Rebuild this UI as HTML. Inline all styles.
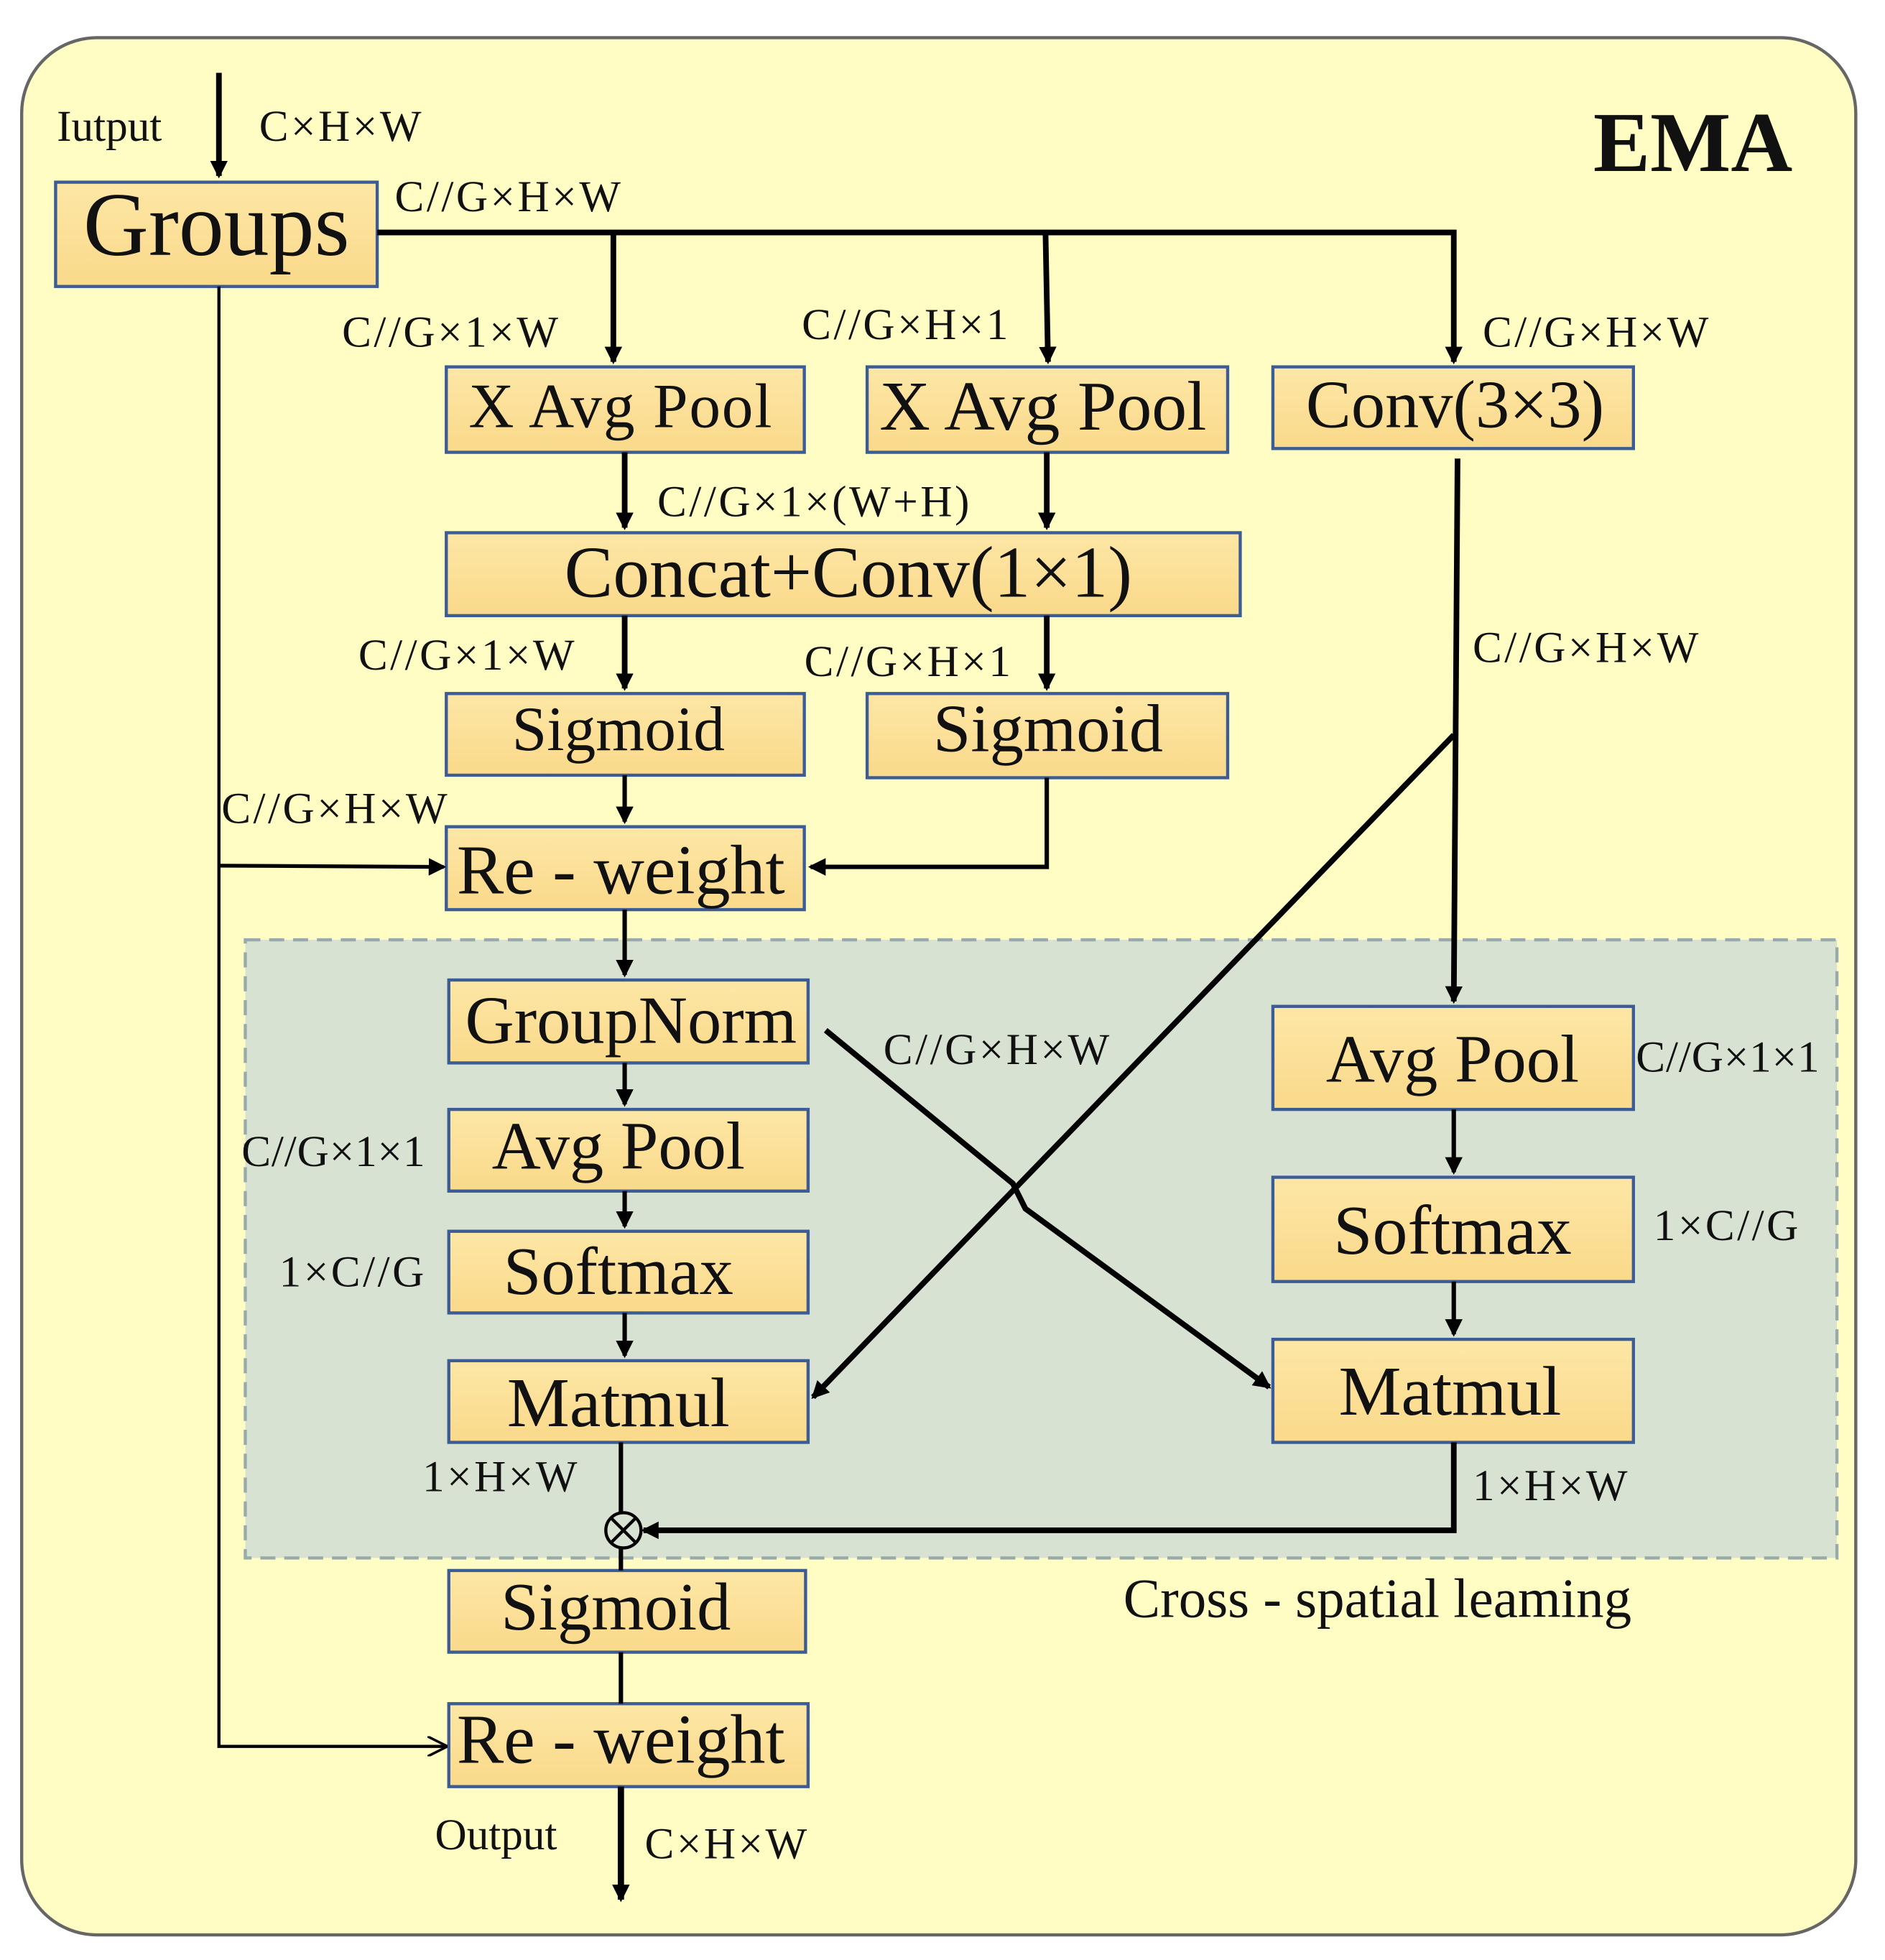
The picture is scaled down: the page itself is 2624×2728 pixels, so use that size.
<!DOCTYPE html>
<html><head><meta charset="utf-8"><style>
html,body{margin:0;padding:0;background:#fff;}
svg{display:block;}
text{font-family:"Liberation Serif",serif;fill:#111;}
</style></head><body>
<svg width="2624" height="2728" viewBox="0 0 1500 1560" xmlns="http://www.w3.org/2000/svg">
<defs>
<marker id="a" markerWidth="14" markerHeight="14" refX="12" refY="7" orient="auto" markerUnits="userSpaceOnUse" viewBox="0 0 14 14"><path d="M0,0 L14,7 L0,14 z" fill="#000"/></marker>
<marker id="b" markerWidth="16" markerHeight="16" refX="15" refY="8" orient="auto" markerUnits="userSpaceOnUse" viewBox="0 0 16 16"><path d="M0,0 L16,8 L0,16" fill="none" stroke="#000" stroke-width="2"/></marker>
<linearGradient id="g" x1="0" y1="0" x2="0" y2="1"><stop offset="0" stop-color="#FDE7A6"/><stop offset="1" stop-color="#FAD98A"/></linearGradient>
</defs>
<rect x="0" y="0" width="1500" height="1560" fill="#fff"/>
<rect x="17" y="30" width="1460" height="1510" rx="60" fill="#FFFDC4" stroke="#666" stroke-width="2.5"/>
<rect x="195" y="748" width="1267" height="492" fill="#D8E2D2" stroke="#9aa" stroke-width="2.5" stroke-dasharray="12,7"/>
<g fill="url(#g)" stroke="#3C5C95" stroke-width="2.5">
<rect x="44" y="145" width="256" height="83"/>
<rect x="355" y="292" width="285" height="68"/>
<rect x="690" y="292" width="287" height="68"/>
<rect x="1013" y="292" width="287" height="65"/>
<rect x="355" y="424" width="632" height="66"/>
<rect x="355" y="552" width="285" height="65"/>
<rect x="690" y="552" width="287" height="67"/>
<rect x="355" y="658" width="285" height="66"/>
<rect x="357" y="780" width="286" height="66"/>
<rect x="357" y="883" width="286" height="65"/>
<rect x="357" y="980" width="286" height="65"/>
<rect x="357" y="1083" width="286" height="65"/>
<rect x="1013" y="801" width="287" height="82"/>
<rect x="1013" y="937" width="287" height="83"/>
<rect x="1013" y="1066" width="287" height="82"/>
<rect x="357" y="1250" width="284" height="65"/>
<rect x="357" y="1356" width="286" height="66"/>
</g>
<g stroke="#000" stroke-width="4.5" fill="none">
<line x1="174" y1="58" x2="174" y2="140" marker-end="url(#a)"/>
<polyline points="300,185 1157,185 1157,288" marker-end="url(#a)"/>
<line x1="488" y1="185" x2="488" y2="288" marker-end="url(#a)"/>
<line x1="832" y1="185" x2="834" y2="288" marker-end="url(#a)"/>
<line x1="497" y1="360" x2="497" y2="420" marker-end="url(#a)"/>
<line x1="833" y1="360" x2="833" y2="420" marker-end="url(#a)"/>
<line x1="497" y1="490" x2="497" y2="548" marker-end="url(#a)"/>
<line x1="833" y1="490" x2="833" y2="548" marker-end="url(#a)"/>
<line x1="497" y1="617" x2="497" y2="654" stroke-width="3.5" marker-end="url(#a)"/>
<polyline points="833,619 833,690 645,690" stroke-width="3.5" marker-end="url(#a)"/>
<line x1="497" y1="724" x2="497" y2="776" stroke-width="3.5" marker-end="url(#a)"/>
<line x1="497" y1="846" x2="497" y2="879" stroke-width="3.5" marker-end="url(#a)"/>
<line x1="497" y1="948" x2="497" y2="976" stroke-width="3.5" marker-end="url(#a)"/>
<line x1="497" y1="1045" x2="497" y2="1079" stroke-width="3.5" marker-end="url(#a)"/>
<line x1="1160" y1="365" x2="1157" y2="797" marker-end="url(#a)"/>
<polyline points="1157,585 647,1112" marker-end="url(#a)"/>
<polyline points="657,820 806,942 816,962 1010,1104" marker-end="url(#a)"/>
<line x1="1157" y1="883" x2="1157" y2="933" stroke-width="3.5" marker-end="url(#a)"/>
<line x1="1157" y1="1020" x2="1157" y2="1062" stroke-width="3.5" marker-end="url(#a)"/>
<line x1="494" y1="1148" x2="494" y2="1204" stroke-width="3.5"/>
<polyline points="1157,1148 1157,1218 512,1218" marker-end="url(#a)"/>
<line x1="494" y1="1232" x2="494" y2="1250" stroke-width="3.5"/>
<line x1="494" y1="1315" x2="494" y2="1356" stroke-width="3.5"/>
<line x1="494" y1="1422" x2="494" y2="1512" stroke-width="5" marker-end="url(#a)"/>
</g>
<g stroke="#000" stroke-width="2.5" fill="none">
<polyline points="174,228 174,1390 355,1390" marker-end="url(#b)"/>
<line x1="174" y1="689" x2="353" y2="690" stroke-width="3" marker-end="url(#a)"/>
<circle cx="496" cy="1218" r="14"/>
<line x1="486" y1="1208" x2="506" y2="1228"/><line x1="506" y1="1208" x2="486" y2="1228"/>
</g>
<text x="1268" y="136" font-size="68" font-weight="bold" fill="#333">EMA</text>
<g font-size="60" text-anchor="middle">
<text x="172" y="203" font-size="72">Groups</text>
<text x="494" y="340" font-size="50" letter-spacing="1">X Avg  Pool</text>
<text x="830" y="342" font-size="56">X Avg Pool</text>
<text x="1158" y="340" font-size="54">Conv(3×3)</text>
<text x="675" y="475" font-size="58">Concat+Conv(1×1)</text>
<text x="492" y="597" font-size="50">Sigmoid</text>
<text x="834" y="598" font-size="54">Sigmoid</text>
<text x="494" y="711" font-size="56">Re - weight</text>
<text x="502" y="830" font-size="54">GroupNorm</text>
<text x="492" y="930" font-size="54">Avg Pool</text>
<text x="492" y="1030" font-size="54">Softmax</text>
<text x="492" y="1135" font-size="56">Matmul</text>
<text x="1156" y="861" font-size="54">Avg Pool</text>
<text x="1156" y="998" font-size="56">Softmax</text>
<text x="1154" y="1126" font-size="56">Matmul</text>
<text x="490" y="1297" font-size="54">Sigmoid</text>
<text x="494" y="1403" font-size="56">Re - weight</text>
</g>
<g font-size="35" letter-spacing="2">
<text x="45" y="112" letter-spacing="0">Iutput</text>
<text x="206" y="112">C×H×W</text>
<text x="314" y="168">C//G×H×W</text>
<text x="272" y="276">C//G×1×W</text>
<text x="638" y="270">C//G×H×1</text>
<text x="1180" y="276">C//G×H×W</text>
<text x="523" y="411">C//G×1×(W+H)</text>
<text x="285" y="533">C//G×1×W</text>
<text x="640" y="538">C//G×H×1</text>
<text x="1172" y="527">C//G×H×W</text>
<text x="176" y="655">C//G×H×W</text>
<text x="703" y="847">C//G×H×W</text>
<text x="1302" y="853" letter-spacing="0.5">C//G×1×1</text>
<text x="192" y="928" letter-spacing="0.5">C//G×1×1</text>
<text x="222" y="1024">1×C//G</text>
<text x="1316" y="987">1×C//G</text>
<text x="336" y="1187">1×H×W</text>
<text x="1172" y="1194">1×H×W</text>
<text x="894" y="1287" font-size="44" letter-spacing="0">Cross - spatial leaming</text>
<text x="346" y="1472" letter-spacing="0">Output</text>
<text x="513" y="1479">C×H×W</text>
</g>
</svg>
</body></html>
